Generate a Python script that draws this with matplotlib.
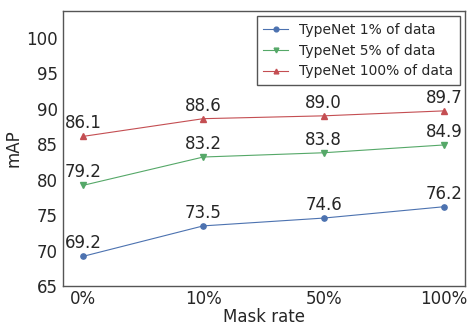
import matplotlib
matplotlib.use('Agg')
from matplotlib import pyplot as plt

mask_rates = ['0%', '10%', '50%', '100%']
typenet_1 = [69.2, 73.5, 74.6, 76.2]
typenet_5 = [79.2, 83.2, 83.8, 84.9]
typenet_100 = [86.1, 88.6, 89.0, 89.7]

series = [
    ('TypeNet 1% of data', typenet_1, '#4C72B0', 'o'),
    ('TypeNet 5% of data', typenet_5, '#55A868', 'v'),
    ('TypeNet 100% of data', typenet_100, '#C44E52', '^'),
]

fig, ax = plt.subplots(figsize=(4.69, 3.26), dpi=100)
fig.subplots_adjust(left=0.134, right=0.992, top=0.967, bottom=0.122)

x = range(len(mask_rates))
for label, vals, color, marker in series:
    ax.plot(x, vals, color=color, marker=marker, markersize=3.8, linewidth=0.8, label=label)
    for xi, v in zip(x, vals):
        ax.annotate(f'{v:.1f}', (xi, v), xytext=(0, 3), textcoords='offset points',
                    ha='center', va='bottom', fontsize=12, color='#262626')

ax.set_xticks(list(x))
ax.set_xticklabels(mask_rates)
ax.set_xlim(-0.166, 3.175)
ax.set_ylim(65, 103.8)
ax.set_yticks([65, 70, 75, 80, 85, 90, 95, 100])
ax.tick_params(length=0, labelsize=12, labelcolor='#262626', pad=3.5)
ax.tick_params(axis='x', pad=3)
ax.set_xlabel('Mask rate', fontsize=12, color='#262626', labelpad=0)
ax.set_ylabel('mAP', fontsize=12, color='#262626', labelpad=3)
for s in ax.spines.values():
    s.set_color('#555555')
    s.set_linewidth(1.0)

leg = ax.legend(loc='upper right', fontsize=10, fancybox=False, framealpha=1,
                edgecolor='#555555', handlelength=1.8, borderpad=0.45,
                borderaxespad=0.4, markerscale=0.9)
for t in leg.get_texts():
    t.set_color('#262626')

fig.savefig('out.png', dpi=100)
